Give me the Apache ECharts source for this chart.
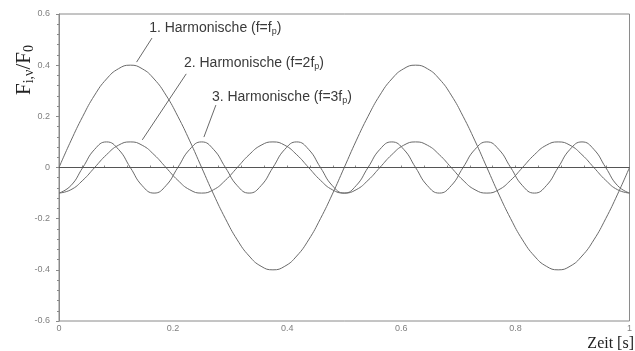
<!DOCTYPE html>
<html>
<head>
<meta charset="utf-8">
<script src="https://cdn.jsdelivr.net/npm/echarts@6/dist/echarts.min.js"></script>
<style>
  html, body { margin: 0; padding: 0; background: #fff; }
  #chart { width: 635px; height: 351px; }
</style>
</head>
<body>
<div id="chart"></div>
<script>
// Zeitpunkte [s]
const time = [0, 0.0208, 0.0417, 0.0625, 0.0833, 0.1042, 0.125, 0.1458, 0.1667, 0.1875, 0.2083, 0.2292,
  0.25, 0.2708, 0.2917, 0.3125, 0.3333, 0.3542, 0.375, 0.3958, 0.4167, 0.4375, 0.4583, 0.4792,
  0.5, 0.5208, 0.5417, 0.5625, 0.5833, 0.6042, 0.625, 0.6458, 0.6667, 0.6875, 0.7083, 0.7292,
  0.75, 0.7708, 0.7917, 0.8125, 0.8333, 0.8542, 0.875, 0.8958, 0.9167, 0.9375, 0.9583, 0.9792, 1];

// 1. Harmonische (f = fp)
const harm1 = [0, 0.104, 0.2, 0.283, 0.346, 0.386, 0.4, 0.386, 0.346, 0.283, 0.2, 0.104,
  0, -0.104, -0.2, -0.283, -0.346, -0.386, -0.4, -0.386, -0.346, -0.283, -0.2, -0.104,
  0, 0.104, 0.2, 0.283, 0.346, 0.386, 0.4, 0.386, 0.346, 0.283, 0.2, 0.104,
  0, -0.104, -0.2, -0.283, -0.346, -0.386, -0.4, -0.386, -0.346, -0.283, -0.2, -0.104, 0];

// 2. Harmonische (f = 2fp)
const harm2 = [-0.1, -0.087, -0.05, 0, 0.05, 0.087, 0.1, 0.087, 0.05, 0, -0.05, -0.087,
  -0.1, -0.087, -0.05, 0, 0.05, 0.087, 0.1, 0.087, 0.05, 0, -0.05, -0.087,
  -0.1, -0.087, -0.05, 0, 0.05, 0.087, 0.1, 0.087, 0.05, 0, -0.05, -0.087,
  -0.1, -0.087, -0.05, 0, 0.05, 0.087, 0.1, 0.087, 0.05, 0, -0.05, -0.087, -0.1];

// 3. Harmonische (f = 3fp)
const harm3 = [-0.1, -0.071, 0, 0.071, 0.1, 0.071, 0, -0.071,
  -0.1, -0.071, 0, 0.071, 0.1, 0.071, 0, -0.071,
  -0.1, -0.071, 0, 0.071, 0.1, 0.071, 0, -0.071,
  -0.1, -0.071, 0, 0.071, 0.1, 0.071, 0, -0.071,
  -0.1, -0.071, 0, 0.071, 0.1, 0.071, 0, -0.071,
  -0.1, -0.071, 0, 0.071, 0.1, 0.071, 0, -0.071, -0.1];

// Beschriftungen: Textanker und Hinweislinie (Datenkoordinaten)
const notes = [
  { rich: '{t|1. Harmonische (f=f}{s|p}{t|)}', at: [0.158, 0.545], from: [0.163, 0.506], to: [0.136, 0.412] },
  { rich: '{t|2. Harmonische (f=2f}{s|p}{t|)}', at: [0.219, 0.409], from: [0.223, 0.366], to: [0.146, 0.108] },
  { rich: '{t|3. Harmonische (f=3f}{s|p}{t|)}', at: [0.268, 0.276], from: [0.275, 0.244], to: [0.254, 0.119] }
];

const pairs = (ys) => time.map((t, i) => [t, ys[i]]);

const chart = echarts.init(document.getElementById('chart'), null, { renderer: 'canvas' });

const lineColor = '#6a6a6a';
const axisColor = '#8a8a8a';
const labelFont = { color: '#808080', fontSize: 9, fontFamily: 'Liberation Sans, Arial, sans-serif' };

function curve(name, ys) {
  return {
    name, type: 'line', data: pairs(ys), smooth: true, showSymbol: false, silent: true,
    lineStyle: { color: lineColor, width: 1 }, animation: false
  };
}

const s1 = curve('1. Harmonische', harm1);
s1.markLine = {
  silent: true, symbol: 'none', animation: false, label: { show: false },
  lineStyle: { color: '#555', width: 1, type: 'solid' },
  data: [{ yAxis: 0 }]
};

chart.setOption({
  animation: false,
  backgroundColor: '#fff',
  grid: { left: 59, top: 14, right: 1, bottom: 30, show: true, borderColor: axisColor, borderWidth: 1 },
  xAxis: {
    type: 'value', min: 0, max: 1, interval: 0.2,
    axisLine: { show: true, lineStyle: { color: axisColor } },
    axisTick: { show: true, length: 2, inside: true, lineStyle: { color: axisColor } },
    minorTick: { show: true, splitNumber: 5, length: 2, lineStyle: { color: axisColor } },
    splitLine: { show: false },
    axisLabel: Object.assign({ margin: 3 }, labelFont)
  },
  yAxis: {
    type: 'value', min: -0.6, max: 0.6, interval: 0.2,
    axisLine: { show: true, lineStyle: { color: axisColor } },
    axisTick: { show: true, length: 3, lineStyle: { color: axisColor } },
    minorTick: { show: true, splitNumber: 5, length: 2, lineStyle: { color: axisColor } },
    splitLine: { show: false },
    axisLabel: Object.assign({ margin: 9 }, labelFont)
  },
  series: [s1, curve('2. Harmonische', harm2), curve('3. Harmonische', harm3)]
});

// Beschriftungen, Achsentitel und Hinweislinien
const elements = [];
notes.forEach((n) => {
  const p = chart.convertToPixel({ gridIndex: 0 }, n.at);
  const a = chart.convertToPixel({ gridIndex: 0 }, n.from);
  const b = chart.convertToPixel({ gridIndex: 0 }, n.to);
  elements.push({
    type: 'text', x: p[0], y: p[1], silent: true,
    style: {
      text: n.rich, align: 'left', verticalAlign: 'middle',
      rich: {
        t: { fontSize: 14, fontFamily: 'Liberation Sans, Arial, sans-serif', fill: '#3a3a3a', lineHeight: 16 },
        s: { fontSize: 9, fontFamily: 'Liberation Sans, Arial, sans-serif', fill: '#3a3a3a', lineHeight: 16, verticalAlign: 'bottom', padding: [7, 0, 0, 0] }
      }
    }
  });
  elements.push({
    type: 'line', silent: true,
    shape: { x1: a[0], y1: a[1], x2: b[0], y2: b[1] },
    style: { stroke: lineColor, lineWidth: 1 }
  });
});

elements.push({
  type: 'text', x: 24, y: 70, rotation: Math.PI / 2, silent: true,
  style: {
    text: '{m|F}{s|i,ν}{m|/F}{s|0}', align: 'center', verticalAlign: 'middle',
    rich: {
      m: { fontSize: 21, fontFamily: 'Liberation Serif, Times New Roman, serif', fill: '#222', lineHeight: 24 },
      s: { fontSize: 14, fontFamily: 'Liberation Serif, Times New Roman, serif', fill: '#222', lineHeight: 24, verticalAlign: 'bottom', padding: [9, 0, 0, 0] }
    }
  }
});

elements.push({
  type: 'text', x: 634, y: 344, silent: true,
  style: {
    text: 'Zeit [s]', align: 'right', verticalAlign: 'middle',
    fontSize: 16, fontFamily: 'Liberation Serif, Times New Roman, serif', fill: '#222'
  }
});

chart.setOption({ graphic: { elements } });
</script>
</body>
</html>
